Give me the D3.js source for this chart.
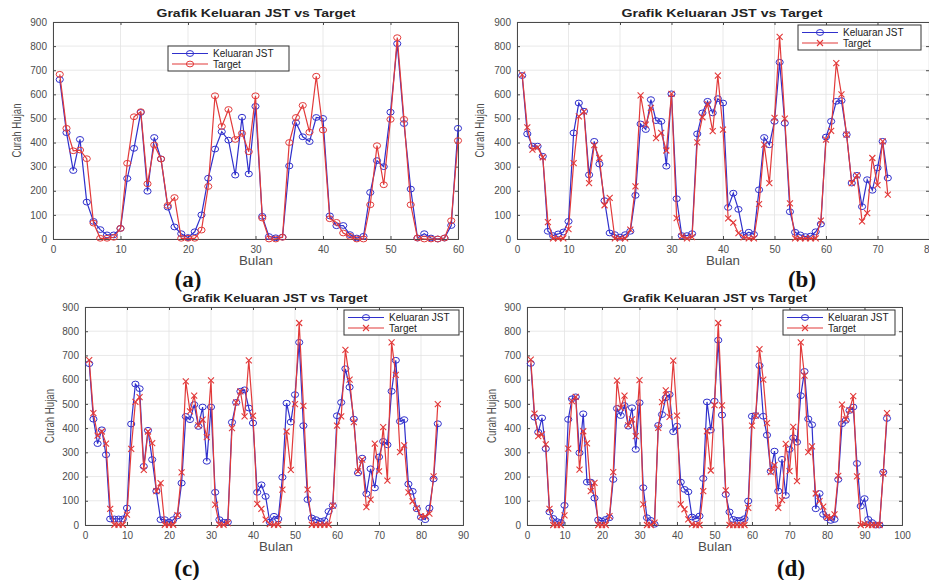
<!DOCTYPE html>
<html>
<head>
<meta charset="utf-8">
<script src="https://cdn.jsdelivr.net/npm/d3@7"></script>
<style>
  body { margin: 0; background: #fff; }
  svg { display: block; font-family: "Liberation Sans", Arial, sans-serif; }
</style>
</head>
<body>
<svg id="chart" width="929" height="580"></svg>
<script>
// Data (Curah Hujan per bulan)
var aJst = [661, 441, 284, 413, 153, 73, 39, 17, 17, 44, 251, 376, 525, 198, 421, 332, 132, 50, 22, 6,
    30, 100, 252, 373, 445, 410, 265, 505, 270, 550, 94, 10, 5, 8, 303, 482, 424, 404, 504, 500,
    96, 55, 56, 18, 4, 11, 193, 325, 300, 526, 810, 479, 207, 4, 22, 4, 0, 4, 56, 459];
var aTarget = [683, 459, 366, 369, 333, 66, 3, 3, 7, 44, 314, 507, 528, 229, 390, 332, 139, 172, 3, 3,
    3, 37, 218, 594, 467, 537, 413, 438, 362, 594, 87, 0, 0, 7, 400, 504, 554, 443, 675, 452,
    84, 69, 25, 11, 0, 0, 142, 387, 225, 496, 835, 496, 142, 4, 0, 0, 0, 4, 76, 408];

var bJst = [678, 436, 385, 385, 343, 32, 14, 21, 29, 73, 440, 564, 530, 266, 405, 311, 159, 25, 18, 8,
    18, 32, 181, 477, 454, 578, 491, 488, 302, 602, 167, 14, 14, 22, 436, 523, 571, 523, 582, 564,
    131, 190, 123, 15, 28, 19, 204, 421, 391, 488, 733, 480, 113, 28, 17, 10, 12, 30, 62, 423,
    488, 571, 574, 433, 232, 264, 134, 246, 202, 295, 405, 253];
var bTarget = [682, 463, 371, 380, 339, 70, 3, 3, 3, 41, 315, 509, 528, 232, 389, 336, 140, 171, 3, 3,
    3, 39, 218, 596, 474, 544, 418, 440, 367, 602, 87, 11, 3, 8, 401, 505, 559, 447, 678, 454,
    86, 68, 24, 7, 3, 3, 145, 391, 232, 502, 838, 499, 148, 3, 3, 3, 3, 3, 76, 412,
    448, 729, 600, 433, 232, 264, 73, 107, 336, 223, 405, 184];

var cJst = [666, 437, 336, 393, 290, 25, 25, 25, 25, 70, 417, 582, 563, 242, 391, 270, 140, 22, 22, 12,
    22, 38, 173, 448, 435, 497, 407, 487, 263, 487, 135, 22, 11, 12, 424, 506, 552, 558, 483, 421,
    135, 166, 118, 12, 36, 25, 197, 503, 425, 538, 754, 410, 105, 29, 22, 15, 18, 56, 80, 451,
    506, 645, 569, 437, 215, 276, 129, 232, 153, 281, 345, 331, 552, 680, 428, 435, 169, 139, 67, 32,
    22, 70, 190, 418];
var cTarget = [681, 462, 369, 386, 336, 67, 1, 1, 1, 43, 314, 508, 528, 228, 386, 338, 140, 173, 1, 1,
    1, 41, 217, 593, 469, 534, 411, 435, 363, 597, 84, 1, 1, 8, 400, 506, 552, 448, 680, 451,
    87, 67, 22, 4, 1, 1, 146, 386, 228, 499, 834, 492, 146, 1, 1, 1, 1, 1, 80, 410,
    448, 723, 600, 425, 221, 270, 74, 105, 336, 221, 404, 183, 754, 620, 301, 329, 135, 98, 70, 36,
    36, 47, 201, 499];

var dJst = [667, 445, 383, 442, 315, 54, 27, 14, 10, 81, 436, 521, 529, 298, 459, 177, 177, 111, 21, 16,
    23, 30, 188, 481, 452, 493, 408, 484, 312, 505, 154, 30, 19, 3, 411, 456, 525, 539, 385, 408,
    177, 147, 137, 33, 26, 37, 192, 508, 392, 511, 763, 454, 126, 54, 23, 19, 19, 26, 99, 449,
    452, 658, 449, 371, 222, 305, 140, 271, 122, 312, 360, 342, 534, 634, 438, 414, 67, 130, 44, 30,
    19, 23, 188, 418, 432, 473, 487, 254, 78, 109, 23, 10, 0, 0, 218, 440];
var dTarget = [683, 460, 367, 374, 333, 67, 0, 0, 0, 40, 315, 511, 529, 229, 387, 337, 140, 174, 0, 0,
    0, 37, 218, 596, 484, 534, 411, 436, 367, 598, 85, 0, 0, 10, 401, 507, 556, 446, 679, 452,
    85, 65, 23, 3, 0, 0, 140, 387, 225, 495, 834, 494, 143, 0, 0, 0, 0, 0, 71, 410,
    452, 726, 600, 421, 218, 247, 71, 103, 335, 222, 405, 181, 754, 617, 301, 325, 130, 99, 76, 33,
    30, 44, 203, 497, 436, 474, 532, 201, 0, 5, 0, 0, 0, 0, 212, 462];

var yTicks = [0, 100, 200, 300, 400, 500, 600, 700, 800, 900];
var aTicks = [0, 10, 20, 30, 40, 50, 60];
var bTicks = [0, 10, 20, 30, 40, 50, 60, 70, 80];
var cTicks = [0, 10, 20, 30, 40, 50, 60, 70, 80, 90];
var dTicks = [0, 10, 20, 30, 40, 50, 60, 70, 80, 90, 100];

var titleText = "Grafik Keluaran JST vs Target";
var blue = "#3030cc";
var red = "#e23a3a";

var svg = d3.select("#chart");

function drawPanel(p) {
    var x = d3.scaleLinear().domain([0, p.xTicks[p.xTicks.length - 1]]).range([p.left, p.right]);
    var y = d3.scaleLinear().domain([0, 900]).range([p.bottom, p.top]);
    var g = svg.append("g");

    // Background
    g.append("rect")
        .attr("x", p.left).attr("y", p.top)
        .attr("width", p.right - p.left).attr("height", p.bottom - p.top)
        .attr("fill", "#fff");

    // Grid lines
    g.selectAll(".gx").data(p.xTicks).enter().append("line")
        .attr("x1", d => x(d)).attr("x2", d => x(d))
        .attr("y1", p.top).attr("y2", p.bottom)
        .attr("stroke", "#e3e3e3").attr("stroke-width", 0.8);
    g.selectAll(".gy").data(yTicks).enter().append("line")
        .attr("x1", p.left).attr("x2", p.right)
        .attr("y1", d => y(d)).attr("y2", d => y(d))
        .attr("stroke", "#e3e3e3").attr("stroke-width", 0.8);

    // Axes (ticks inward, MATLAB style)
    var xAxis = d3.axisBottom(x).tickValues(p.xTicks).tickSize(-3).tickPadding(7);
    var yAxis = d3.axisLeft(y).tickValues(yTicks).tickSize(-3).tickPadding(6);
    g.append("g").attr("transform", "translate(0," + p.bottom + ")").call(xAxis);
    g.append("g").attr("transform", "translate(" + p.left + ",0)").call(yAxis);
    g.append("g").attr("transform", "translate(0," + p.top + ")")
        .call(d3.axisTop(x).tickValues(p.xTicks).tickSize(-3).tickFormat(""));
    g.append("g").attr("transform", "translate(" + p.right + ",0)")
        .call(d3.axisRight(y).tickValues(yTicks).tickSize(-3).tickFormat(""));
    g.selectAll(".domain").attr("stroke", "#4a4a4a").attr("stroke-width", 1);
    g.selectAll(".tick line").attr("stroke", "#4a4a4a");
    g.selectAll(".tick text")
        .attr("fill", "#4d4d4d")
        .style("font-size", "10px")
        .style("font-family", "'Liberation Sans', Arial, sans-serif");

    // Series lines
    var line = d3.line().x((d, i) => x(i + 1)).y(d => y(d));
    g.append("path").datum(p.jst)
        .attr("d", line).attr("fill", "none")
        .attr("stroke", blue).attr("stroke-width", 1.2);
    g.selectAll(".mj").data(p.jst).enter().append("ellipse")
        .attr("cx", (d, i) => x(i + 1)).attr("cy", d => y(d))
        .attr("rx", 3.6).attr("ry", 2.9)
        .attr("fill", "none").attr("stroke", blue).attr("stroke-width", 1);

    g.append("path").datum(p.target)
        .attr("d", line).attr("fill", "none")
        .attr("stroke", red).attr("stroke-width", 1.2);
    if (p.targetMarker === "o") {
        g.selectAll(".mt").data(p.target).enter().append("ellipse")
            .attr("cx", (d, i) => x(i + 1)).attr("cy", d => y(d))
            .attr("rx", 3.6).attr("ry", 2.9)
            .attr("fill", "none").attr("stroke", red).attr("stroke-width", 1);
    } else {
        g.selectAll(".mt").data(p.target).enter().append("path")
            .attr("d", (d, i) => {
                var cx = x(i + 1), cy = y(d), s = 3;
                return "M" + (cx - s) + "," + (cy - s) + "L" + (cx + s) + "," + (cy + s) +
                    "M" + (cx - s) + "," + (cy + s) + "L" + (cx + s) + "," + (cy - s);
            })
            .attr("stroke", red).attr("stroke-width", 1.1);
    }

    // Title
    g.append("text")
        .attr("x", p.titleX).attr("y", p.top - 5)
        .attr("text-anchor", "middle")
        .attr("textLength", p.titleW).attr("lengthAdjust", "spacingAndGlyphs")
        .style("font-size", "11px").style("font-weight", "bold").attr("fill", "#222")
        .text(titleText);

    // Axis labels
    g.append("text")
        .attr("x", p.xLabelX).attr("y", p.bottom + 26)
        .attr("text-anchor", "middle")
        .attr("textLength", 34).attr("lengthAdjust", "spacingAndGlyphs")
        .style("font-size", "12px").attr("fill", "#4d4d4d")
        .text("Bulan");
    g.append("text")
        .attr("transform", "translate(" + p.yLabelX + "," + ((p.top + p.bottom) / 2) + ") rotate(-90)")
        .attr("text-anchor", "middle")
        .attr("textLength", 54).attr("lengthAdjust", "spacingAndGlyphs")
        .style("font-size", "12.5px").attr("fill", "#4d4d4d")
        .text("Curah Hujan");

    // Legend
    var lg = g.append("g").attr("transform", "translate(" + p.legend[0] + "," + p.legend[1] + ")");
    lg.append("rect").attr("width", p.legend[2]).attr("height", 25)
        .attr("fill", "#fff").attr("stroke", "#333").attr("stroke-width", 1);
    var entries = [{ name: "Keluaran JST", color: blue, marker: "o" },
                   { name: "Target", color: red, marker: p.targetMarker }];
    entries.forEach(function (e, i) {
        var ly = 7.5 + i * 10.5;
        lg.append("line").attr("x1", 4).attr("x2", 40).attr("y1", ly).attr("y2", ly)
            .attr("stroke", e.color).attr("stroke-width", 1.2);
        if (e.marker === "o") {
            lg.append("ellipse").attr("cx", 22).attr("cy", ly).attr("rx", 3.6).attr("ry", 2.9)
                .attr("fill", "none").attr("stroke", e.color);
        } else {
            lg.append("path")
                .attr("d", "M19," + (ly - 3) + "L25," + (ly + 3) + "M19," + (ly + 3) + "L25," + (ly - 3))
                .attr("stroke", e.color).attr("stroke-width", 1.1);
        }
        lg.append("text").attr("x", 45).attr("y", ly + 3.5)
            .style("font-size", "10px").attr("fill", "#222")
            .text(e.name);
    });

    // Panel letter
    svg.append("text")
        .attr("x", p.letterX).attr("y", p.letterY)
        .attr("text-anchor", "middle")
        .style("font-family", "'Liberation Serif', 'Times New Roman', serif")
        .style("font-size", "23px").style("font-weight", "bold").attr("fill", "#111")
        .text(p.letter);
}

drawPanel({ jst: aJst, target: aTarget, xTicks: aTicks, targetMarker: "o",
    left: 53, right: 458, top: 22, bottom: 239,
    titleX: 256, titleW: 199, xLabelX: 256, yLabelX: 21,
    legend: [168, 46, 121], letter: "(a)", letterX: 188, letterY: 287 });
drawPanel({ jst: bJst, target: bTarget, xTicks: bTicks, targetMarker: "x",
    left: 517, right: 929, top: 22, bottom: 239,
    titleX: 722, titleW: 201, xLabelX: 723, yLabelX: 484,
    legend: [798, 25, 123], letter: "(b)", letterX: 802, letterY: 287 });
drawPanel({ jst: cJst, target: cTarget, xTicks: cTicks, targetMarker: "x",
    left: 85, right: 463, top: 307, bottom: 525,
    titleX: 275, titleW: 185, xLabelX: 276, yLabelX: 54,
    legend: [344, 310, 115], letter: "(c)", letterX: 187, letterY: 576 });
drawPanel({ jst: dJst, target: dTarget, xTicks: dTicks, targetMarker: "x",
    left: 527, right: 902, top: 307, bottom: 525,
    titleX: 715, titleW: 184, xLabelX: 715, yLabelX: 496,
    legend: [783, 310, 112], letter: "(d)", letterX: 791, letterY: 576 });
</script>
</body>
</html>
